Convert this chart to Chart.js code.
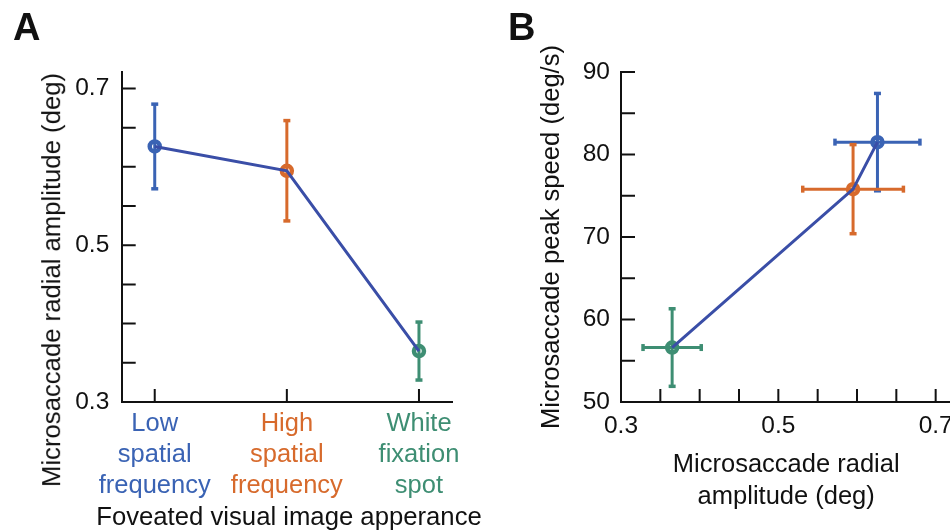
<!DOCTYPE html>
<html>
<head>
<meta charset="utf-8">
<script src="https://cdn.jsdelivr.net/npm/chart.js@4.4.1/dist/chart.umd.min.js"></script>
<style>
  html, body { margin: 0; padding: 0; background: #fff; width: 950px; height: 531px; overflow: hidden; }
  body { position: relative; font-family: 'Liberation Sans', Arial, Helvetica, sans-serif; color: #111; }
  .panel { position: absolute; top: 0; height: 531px; }
  #wrapA { left: 0; width: 475px; }
  #wrapB { left: 475px; width: 500px; }
  .letter { position: absolute; font-weight: bold; font-size: 38px; line-height: 1; }
  .title { position: absolute; font-size: 25.7px; line-height: 1; white-space: nowrap; }
  .ytitle { transform: translate(-50%, -50%) rotate(-90deg); }
  .xtitle { transform: translateX(-50%); }
</style>
</head>
<body>
<div class="panel" id="wrapA"><canvas id="chartA"></canvas></div>
<div class="panel" id="wrapB"><canvas id="chartB"></canvas></div>
<div class="letter" style="left:13px;top:8px">A</div>
<div class="letter" style="left:508px;top:8px">B</div>
<div class="title ytitle" style="left:52px;top:280px">Microsaccade radial amplitude (deg)</div>
<div class="title xtitle" style="left:289px;top:504px">Foveated visual image apperance</div>
<script>
// data
const categories = [['Low', 'spatial', 'frequency'], ['High', 'spatial', 'frequency'], ['White', 'fixation', 'spot']];
const catColors = ['#3a63b4', '#d76a2c', '#3e8e73'];
const amplitude = [0.626, 0.595, 0.365];
const amplitudeErr = [0.054, 0.064, 0.037];
const peakSpeed = [81.5, 75.8, 56.6];
const peakSpeedErr = [5.9, 5.4, 4.7];

const ampLabelTicks = [0.3, 0.5, 0.7];
const ampMinorTicks = [0.3, 0.35, 0.4, 0.45, 0.5, 0.55, 0.6, 0.65, 0.7];
const speedLabelTicks = [50, 60, 70, 80, 90];
const speedMinorTicks = [50, 55, 60, 65, 70, 75, 80, 85, 90];

const lineColor = '#3a4ea7';
const ink = '#111';

Chart.defaults.font.family = "'Liberation Sans', Arial, Helvetica, sans-serif";
Chart.defaults.font.size = 24.5;
Chart.defaults.color = ink;

// MATLAB style ticks pointing into the plot
function inwardTicks(xVals, yVals) {
	return {
		id: 'inwardTicks',
		afterDraw(chart) {
			const { ctx, chartArea: a, scales: { x, y } } = chart;
			ctx.save();
			ctx.strokeStyle = ink;
			ctx.lineWidth = 2;
			ctx.beginPath();
			xVals.forEach(v => {
				const px = x.getPixelForValue(v);
				ctx.moveTo(px, a.bottom);
				ctx.lineTo(px, a.bottom - 13);
			});
			yVals.forEach(v => {
				const py = y.getPixelForValue(v);
				ctx.moveTo(a.left, py);
				ctx.lineTo(a.left + 14, py);
			});
			ctx.stroke();
			ctx.restore();
		}
	};
}

function errorBars(points) {
	return {
		id: 'errorBars',
		beforeDatasetsDraw(chart) {
			const { ctx, scales: { x, y } } = chart;
			const seg = (x1, y1, x2, y2, w) => {
				ctx.lineWidth = w;
				ctx.beginPath();
				ctx.moveTo(x1, y1);
				ctx.lineTo(x2, y2);
				ctx.stroke();
			};
			ctx.save();
			points.forEach(p => {
				ctx.strokeStyle = p.color;
				const cx = x.getPixelForValue(p.x);
				const cy = y.getPixelForValue(p.y);
				if (p.yErr) {
					const t = y.getPixelForValue(p.y + p.yErr);
					const b = y.getPixelForValue(p.y - p.yErr);
					seg(cx, t, cx, b, 3);
					seg(cx - 3.5, t, cx + 3.5, t, 3.5);
					seg(cx - 3.5, b, cx + 3.5, b, 3.5);
				}
				if (p.xErr) {
					const l = x.getPixelForValue(p.x - p.xErr);
					const r = x.getPixelForValue(p.x + p.xErr);
					seg(l, cy, r, cy, 3);
					seg(l, cy - 3.5, l, cy + 3.5, 3.5);
					seg(r, cy - 3.5, r, cy + 3.5, 3.5);
				}
			});
			ctx.restore();
		}
	};
}

const axisBase = {
	grid: { display: true, drawOnChartArea: false, drawTicks: false },
	border: { display: true, color: ink, width: 2 }
};

const markerStyle = {
	pointRadius: 5,
	pointBorderWidth: 4.5,
	pointBorderColor: catColors,
	pointBackgroundColor: 'rgba(0,0,0,0)'
};

// Panel A
new Chart(document.getElementById('chartA'), {
	type: 'scatter',
	data: {
		datasets: [
			{
				data: amplitude.map((v, i) => ({ x: i, y: v })),
				showLine: true,
				borderColor: lineColor,
				borderWidth: 3,
				pointRadius: 0
			},
			{
				data: amplitude.map((v, i) => ({ x: i, y: v })),
				...markerStyle
			}
		]
	},
	options: {
		animation: false,
		responsive: true,
		maintainAspectRatio: false,
		layout: { padding: { left: 0, top: 72, right: 23, bottom: 0 } },
		plugins: { legend: { display: false }, tooltip: { enabled: false } },
		scales: {
			x: {
				...axisBase,
				type: 'linear',
				min: -0.25,
				max: 2.25,
				afterBuildTicks: s => { s.ticks = categories.map((c, i) => ({ value: i })); },
				afterFit: s => { s.height = 129; },
				ticks: {
					callback: v => categories[v],
					color: c => catColors[c.index],
					font: { size: 25.5, lineHeight: 1.22 },
					padding: 6.5,
					maxRotation: 0,
					autoSkip: false
				}
			},
			y: {
				...axisBase,
				min: 0.3,
				max: 0.721,
				afterBuildTicks: s => { s.ticks = ampLabelTicks.map(v => ({ value: v })); },
				afterFit: s => { s.width = 121.7; },
				ticks: { padding: 12.4, callback: v => v.toFixed(1) }
			}
		}
	},
	plugins: [
		errorBars(amplitude.map((v, i) => ({ x: i, y: v, yErr: amplitudeErr[i], color: catColors[i] }))),
		inwardTicks(categories.map((c, i) => i), ampMinorTicks)
	]
});

// Panel B - line joins the conditions in order of amplitude
const order = amplitude.map((v, i) => i).sort((a, b) => amplitude[a] - amplitude[b]);

new Chart(document.getElementById('chartB'), {
	type: 'scatter',
	data: {
		datasets: [
			{
				data: order.map(i => ({ x: amplitude[i], y: peakSpeed[i] })),
				showLine: true,
				borderColor: lineColor,
				borderWidth: 3,
				pointRadius: 0
			},
			{
				data: amplitude.map((v, i) => ({ x: v, y: peakSpeed[i] })),
				...markerStyle
			}
		]
	},
	options: {
		animation: false,
		responsive: true,
		maintainAspectRatio: false,
		layout: { padding: { left: 0, top: 72, right: 23.6, bottom: 0 } },
		plugins: { legend: { display: false }, tooltip: { enabled: false } },
		scales: {
			x: {
				...axisBase,
				type: 'linear',
				min: 0.3,
				max: 0.72,
				afterBuildTicks: s => { s.ticks = ampLabelTicks.map(v => ({ value: v })); },
				afterFit: s => { s.height = 129; },
				ticks: { padding: 10, maxRotation: 0, autoSkip: false, callback: v => v.toFixed(1) },
				title: {
					display: true,
					text: ['Microsaccade radial', 'amplitude (deg)'],
					color: ink,
					font: { size: 25.5, lineHeight: 1.267 },
					padding: { top: 0, bottom: 18 }
				}
			},
			y: {
				...axisBase,
				min: 50,
				max: 90,
				afterBuildTicks: s => { s.ticks = speedLabelTicks.map(v => ({ value: v })); },
				afterFit: s => { s.width = 146; },
				ticks: { padding: 11 },
				title: {
					display: true,
					text: 'Microsaccade peak speed (deg/s)',
					color: ink,
					font: { size: 25.6, lineHeight: 1.2 },
					padding: { top: 62, bottom: 0 }
				}
			}
		}
	},
	plugins: [
		errorBars(amplitude.map((v, i) => ({ x: v, y: peakSpeed[i], xErr: amplitudeErr[i], yErr: peakSpeedErr[i], color: catColors[i] }))),
		inwardTicks(ampMinorTicks, speedMinorTicks)
	]
});
</script>
</body>
</html>
